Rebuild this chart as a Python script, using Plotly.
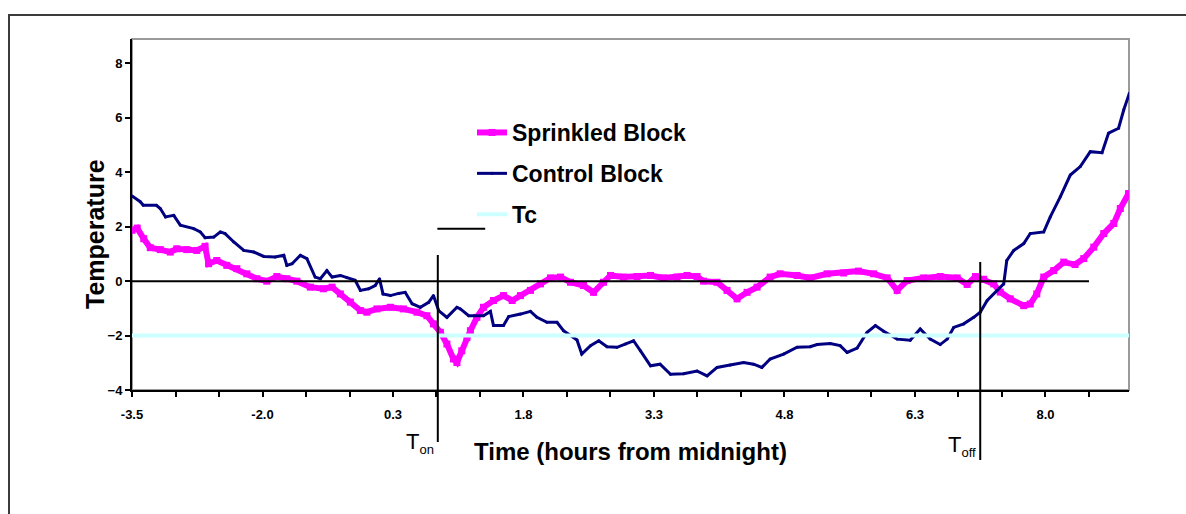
import plotly.graph_objects as go

# ---------------- data (x in axis-tick index units, y in temperature) ----------------
sprinkled_t = [0.00, 0.12, 0.27, 0.42, 0.65, 0.88, 1.03, 1.26, 1.49, 1.68, 1.76, 1.95, 2.18, 2.41,
               2.64, 2.87, 3.10, 3.33, 3.56, 3.79, 4.10, 4.40, 4.60, 4.79, 5.02, 5.25, 5.40, 5.63,
               5.94, 6.24, 6.55, 6.78, 6.93, 7.09, 7.24, 7.39, 7.47, 7.58, 7.70, 7.78, 7.93, 8.08,
               8.31, 8.54, 8.74, 8.93, 9.16, 9.39, 9.62, 9.85, 10.08, 10.38, 10.61, 10.84, 11.00,
               11.30, 11.61, 11.92, 12.22, 12.53, 12.76, 12.99, 13.14, 13.45, 13.68, 13.91, 14.14,
               14.37, 14.67, 14.90, 15.29, 15.59, 15.98, 16.36, 16.70, 17.05, 17.36, 17.59, 17.82,
               18.20, 18.58, 18.97, 19.20, 19.39, 19.58, 19.81, 19.96, 20.19, 20.50, 20.65, 20.80,
               20.96, 21.19, 21.42, 21.68, 21.88, 22.11, 22.34, 22.57, 22.72, 22.91]
sprinkled_temp = [1.87, 1.95, 1.56, 1.23, 1.16, 1.07, 1.19, 1.16, 1.13, 1.28, 0.64, 0.76, 0.58, 0.46,
                  0.27, 0.09, 0.00, 0.17, 0.09, 0.00, -0.22, -0.28, -0.22, -0.47, -0.77, -1.08, -1.14, -1.02,
                  -0.96, -1.02, -1.14, -1.27, -1.57, -1.88, -2.31, -2.86, -2.99, -2.56, -2.07, -1.82, -1.33, -0.96,
                  -0.71, -0.53, -0.71, -0.53, -0.34, -0.10, 0.12, 0.15, -0.04, -0.16, -0.41, -0.04, 0.21,
                  0.15, 0.17, 0.21, 0.12, 0.15, 0.21, 0.17, 0.00, -0.04, -0.34, -0.65, -0.41,
                  -0.22, 0.15, 0.27, 0.21, 0.12, 0.27, 0.30, 0.37, 0.27, 0.12, -0.34, 0.02,
                  0.12, 0.17, 0.12, -0.12, 0.17, 0.07, -0.10, -0.40, -0.65, -0.90, -0.84, -0.47,
                  0.15, 0.39, 0.70, 0.61, 0.83, 1.25, 1.75, 2.12, 2.67, 3.22]

control_t = [0.00, 0.19, 0.26, 0.56, 0.65, 0.77, 0.96, 1.11, 1.42, 1.57, 1.68, 1.88, 2.03, 2.14,
             2.34, 2.57, 2.80, 3.03, 3.29, 3.49, 3.56, 3.68, 3.87, 4.02, 4.21, 4.33, 4.48, 4.60,
             4.79, 4.94, 5.13, 5.25, 5.44, 5.59, 5.69, 5.77, 5.94, 6.13, 6.28, 6.44, 6.63, 6.82,
             6.93, 7.05, 7.24, 7.47, 7.55, 7.74, 8.08, 8.24, 8.31, 8.54, 8.66, 8.93, 9.16, 9.31,
             9.54, 9.77, 9.92, 10.08, 10.23, 10.34, 10.54, 10.73, 10.92, 11.15, 11.34, 11.53,
             11.69, 11.92, 12.14, 12.38, 12.68, 12.99, 13.22, 13.45, 13.75, 14.06, 14.29, 14.48,
             14.67, 14.98, 15.29, 15.59, 15.75, 16.05, 16.28, 16.44, 16.67, 16.90, 17.09, 17.28,
             17.59, 17.89, 18.12, 18.35, 18.58, 18.74, 18.89, 19.12, 19.35, 19.50, 19.66, 19.89,
             20.04, 20.11, 20.27, 20.50, 20.65, 20.96, 21.11, 21.34, 21.57, 21.80, 22.03, 22.30,
             22.45, 22.68, 22.80, 22.93]
control_temp = [3.13, 2.92, 2.79, 2.79, 2.67, 2.36, 2.42, 2.06, 1.93, 1.81, 1.60, 1.62, 1.81, 1.75,
                1.44, 1.13, 1.07, 0.91, 0.89, 0.95, 0.58, 0.64, 0.95, 0.83, 0.15, 0.09, 0.39, 0.15,
                0.21, 0.13, 0.03, -0.34, -0.28, -0.16, 0.09, -0.47, -0.53, -0.45, -0.41, -0.83, -0.96, -0.78,
                -0.53, -1.08, -1.33, -0.96, -1.02, -1.27, -1.27, -1.11, -1.63, -1.63, -1.30, -1.21, -1.11, -1.33,
                -1.51, -1.51, -1.82, -2.00, -2.16, -2.68, -2.37, -2.19, -2.41, -2.43, -2.31, -2.19,
                -2.56, -3.11, -3.05, -3.42, -3.40, -3.30, -3.48, -3.17, -3.08, -2.99, -3.05, -3.17,
                -2.86, -2.68, -2.43, -2.41, -2.33, -2.29, -2.37, -2.62, -2.46, -1.88, -1.63, -1.84,
                -2.13, -2.17, -1.76, -2.13, -2.33, -2.13, -1.70, -1.57, -1.33, -1.14, -0.71, -0.34,
                -0.10, 0.76, 1.13, 1.38, 1.75, 1.81, 2.36, 3.10, 3.90, 4.21, 4.76, 4.72,
                5.44, 5.62, 6.30, 6.91]

tc_t = [0.0, 22.93]
tc_temp = [-2.0, -2.0]
zero_t = [0.0, 22.0]
zero_temp = [0.0, 0.0]

tick_pos = [0, 3, 6, 9, 12, 15, 18, 21]
tick_labels = ["-3.5", "-2.0", "0.3", "1.8", "3.3", "4.8", "6.3", "8.0"]
y_ticks = [-4, -2, 0, 2, 4, 6, 8]
t_on = 7.03
t_off = 19.5

# ---------------- layout geometry ----------------
W, H = 1186, 514
L, R, T, B = 132, 57, 39, 124
FONT = "Liberation Sans, Arial, sans-serif"


def px_x(px):
    return (px - L) / (W - L - R)


def px_y(py):
    return (H - B - py) / (H - T - B)


fig = go.Figure()
fig.add_trace(go.Scatter(x=sprinkled_t, y=sprinkled_temp, name="Sprinkled Block",
                         mode="lines+markers", legendgroup="a",
                         line=dict(color="#FF00FF", width=6),
                         marker=dict(symbol="square", size=7, color="#FF00FF")))
fig.add_trace(go.Scatter(x=control_t, y=control_temp, name="Control Block",
                         mode="lines+markers", legendgroup="b",
                         line=dict(color="#000080", width=3),
                         marker=dict(symbol="circle", size=3, color="#000080")))
fig.add_trace(go.Scatter(x=tc_t, y=tc_temp, name="Tc", mode="lines", legendgroup="c",
                         line=dict(color="#CCFFFF", width=4)))
fig.add_trace(go.Scatter(x=zero_t, y=zero_temp, mode="lines", showlegend=False,
                         line=dict(color="black", width=2), hoverinfo="skip"))

shapes = [
    # plot area border
    dict(type="rect", xref="paper", yref="paper", x0=0, y0=0, x1=1, y1=1,
         line=dict(color="#9a9a9a", width=2), layer="below"),
    # outer frame
    dict(type="rect", xref="paper", yref="paper", x0=px_x(9), y0=px_y(600),
         x1=px_x(1300), y1=px_y(15), line=dict(color="#3c3c3c", width=2)),
    # T_on / T_off markers
    dict(type="line", xref="x", yref="paper", x0=t_on, x1=t_on, y0=px_y(442), y1=px_y(255),
         line=dict(color="black", width=2)),
    dict(type="line", xref="x", yref="paper", x0=t_off, x1=t_off, y0=px_y(460), y1=px_y(262),
         line=dict(color="black", width=2)),
    # stray black legend-like segment
    dict(type="line", xref="x", yref="y", x0=7.02, x1=8.12, y0=1.93, y1=1.93,
         line=dict(color="black", width=2)),
]

annotations = [
    dict(text="<b>Temperature</b>", xref="paper", yref="paper", x=px_x(79), y=px_y(234),
         textangle=-90, showarrow=False, font=dict(family=FONT, size=25, color="black")),
    dict(text="T<sub><span style='font-size:13px'>on</span></sub>", xref="x", yref="paper",
         x=t_on, xshift=-2, y=px_y(443), xanchor="right", yanchor="middle", showarrow=False,
         font=dict(family=FONT, size=22, color="black")),
    dict(text="T<sub><span style='font-size:13px'>off</span></sub>", xref="x", yref="paper",
         x=t_off, xshift=-2, y=px_y(446), xanchor="right", yanchor="middle", showarrow=False,
         font=dict(family=FONT, size=22, color="black")),
]

fig.update_layout(
    width=W, height=H,
    margin=dict(l=L, r=R, t=T, b=B, pad=0),
    paper_bgcolor="white", plot_bgcolor="white",
    font=dict(family=FONT, color="black"),
    showlegend=True,
    legend=dict(x=px_x(472), y=px_y(111), xanchor="left", yanchor="top",
                bgcolor="rgba(0,0,0,0)", borderwidth=0, tracegroupgap=8,
                traceorder="grouped",
                font=dict(family=FONT, size=23, color="black", weight="bold")),
    shapes=shapes,
    annotations=annotations,
    xaxis=dict(range=[0, 22.92], tickmode="array", tickvals=tick_pos, ticktext=tick_labels,
               ticks="outside", ticklen=5, tickwidth=1.5, tickcolor="black",
               showline=True, linecolor="black", linewidth=2, showgrid=False, zeroline=False,
               tickfont=dict(family=FONT, size=13, color="black", weight="bold"),
               ticklabelstandoff=6,
               minor=dict(tick0=0, dtick=1, ticks="outside", ticklen=5, tickwidth=1.5,
                          tickcolor="black", showgrid=False),
               title=dict(text="<b>Time (hours from midnight)</b>", standoff=23,
                          font=dict(family=FONT, size=24, color="black"))),
    yaxis=dict(range=[-4, 8.9], tickmode="array", tickvals=y_ticks,
               ticks="outside", ticklen=5, tickwidth=1.5, tickcolor="black",
               showline=True, linecolor="black", linewidth=2, showgrid=False, zeroline=False,
               tickfont=dict(family=FONT, size=13, color="black", weight="bold")),
)

fig.write_html("out.html")
